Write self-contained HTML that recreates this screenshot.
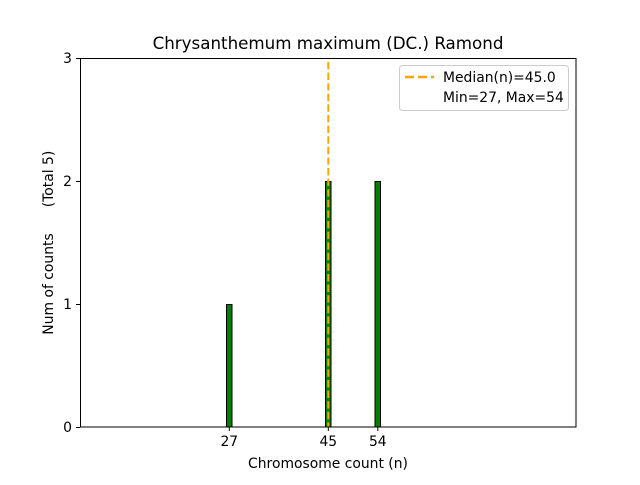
<!DOCTYPE html>
<html><head><meta charset="utf-8"><style>body{margin:0;background:#fff}</style></head><body>
<svg width="640" height="480" viewBox="0 0 640 480" xmlns="http://www.w3.org/2000/svg" font-family="'DejaVu Sans','Liberation Sans',sans-serif">
<rect width="640" height="480" fill="#fff"/>
<line x1="80" y1="427" x2="397" y2="427" stroke="#000" stroke-width="1"/>
<rect x="226.5" y="304.5" width="5.5" height="122.5" fill="#008000" stroke="#000" stroke-width="1"/>
<rect x="325.5" y="181.5" width="5.5" height="245.5" fill="#008000" stroke="#000" stroke-width="1"/>
<rect x="375" y="181.5" width="5.5" height="245.5" fill="#008000" stroke="#000" stroke-width="1"/>
<line x1="328.3" y1="62" x2="328.3" y2="427" stroke="#FFA500" stroke-width="2" stroke-dasharray="7.4,3.2"/>
<rect x="80.5" y="58.5" width="495.5" height="368.5" fill="none" stroke="#000" stroke-width="1"/>
<g stroke="#000"><line x1="76" y1="58.5" x2="80" y2="58.5"/><line x1="76" y1="181.5" x2="80" y2="181.5"/><line x1="76" y1="304.5" x2="80" y2="304.5"/><line x1="76" y1="427.5" x2="80" y2="427.5"/>
<line x1="229.3" y1="427" x2="229.3" y2="431"/><line x1="328.3" y1="427" x2="328.3" y2="431"/><line x1="377.8" y1="427" x2="377.8" y2="431"/></g>
<g font-size="13.9" text-anchor="end"><text x="72" y="63">3</text><text x="72" y="186">2</text><text x="72" y="309">1</text><text x="72" y="432">0</text></g>
<g font-size="13.9" text-anchor="middle"><text x="229.3" y="446">27</text><text x="328.3" y="446">45</text><text x="377.8" y="446">54</text>
<text x="328" y="468">Chromosome count (n)</text>
<text x="328" y="49" font-size="16.7">Chrysanthemum maximum (DC.) Ramond</text></g>
<text transform="translate(53,284) rotate(-90)" font-size="13.9" text-anchor="middle">Num of counts</text>
<text transform="translate(53,179) rotate(-90)" font-size="13.9" text-anchor="middle">(Total 5)</text>
<rect x="399.5" y="65.5" width="169" height="45" rx="3" fill="#fff" stroke="#ccc"/>
<line x1="405" y1="77" x2="434" y2="77" stroke="#FFA500" stroke-width="2.5" stroke-dasharray="9,4"/>
<g font-size="13.9"><text x="443" y="82">Median(n)=45.0</text><text x="443" y="102">Min=27, Max=54</text></g>
</svg>
</body></html>
